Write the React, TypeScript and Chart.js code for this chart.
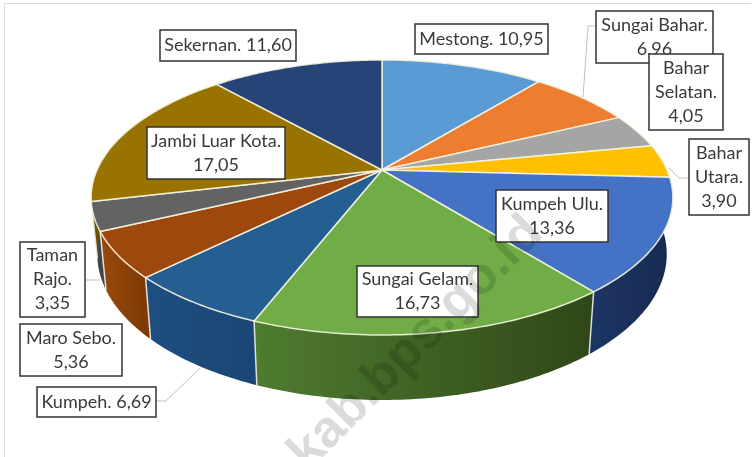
import React, { useEffect, useRef } from "react";
import { Chart, registerables } from "chart.js";

Chart.register(...registerables);

const categories = ["Mestong", "Sungai Bahar", "Bahar Selatan", "Bahar Utara", "Kumpeh Ulu", "Sungai Gelam", "Kumpeh", "Maro Sebo", "Taman Rajo", "Jambi Luar Kota", "Sekernan"];
const shares = [10.95, 6.96, 4.05, 3.9, 13.36, 16.73, 6.69, 5.36, 3.35, 17.05, 11.6];
const topColors = ["#5B9BD5", "#ED7D31", "#A5A5A5", "#FFC000", "#4472C4", "#70AD47", "#255E91", "#9E480E", "#636363", "#997300", "#264478"];
const sideStart = ["#2f5f8c", "#8f4a1c", "#6a6a6a", "#a07800", "#1c3564", "#4f7c2f", "#1d4f80", "#994a0a", "#4a4a4a", "#6b5000", "#17305a"];
const sideEnd = ["#2f5f8c", "#8f4a1c", "#6a6a6a", "#a07800", "#182a50", "#2f4718", "#1a4675", "#7f3a06", "#444444", "#6b5000", "#17305a"];
const wrapModes = [1, 2, 3, 3, 2, 2, 1, 2, 3, 2, 1];
const boxes = [
  [415, 24, 133, 30], [596, 11, 117, 52], [649, 54, 74, 76], [689, 139, 60, 76],
  [496, 190, 112, 52], [357, 266, 121, 51], [37, 387, 119, 30], [20, 324, 102, 52],
  [20, 242, 65, 75], [147, 127, 138, 52], [160, 30, 136, 31],
];
const leaders = [
  [[596, 26], [588, 26], [583, 97]],
  [[689, 178], [679, 178], [669, 168]],
  [[85, 280], [100, 280]],
  [[156, 401], [166, 401], [200, 368]],
];

const CX = 382;
const CY = 170;
const RX = 285;
const RY = 132;
const PERSP = 0.2;
const BOTTOM_RX = 279;
const BOTTOM_RY = 140;
const BOTTOM_DY = 55;

const topPoint = (a: number) => {
  const d = 1 - PERSP * Math.sin(a);
  return [CX + (RX * Math.cos(a)) / d, CY + (RY * Math.sin(a)) / d];
};
const bottomPoint = (a: number) => {
  const d = 1 - PERSP * Math.sin(a);
  return [CX + (BOTTOM_RX * Math.cos(a)) / d, CY + BOTTOM_DY + (BOTTOM_RY * Math.sin(a)) / d];
};
const sweep = (s: number, e: number) => {
  const n = Math.max(4, Math.ceil((e - s) * 60));
  const out: number[] = [];
  for (let i = 0; i <= n; i++) out.push(s + ((e - s) * i) / n);
  return out;
};

const labelLines = (i: number) => {
  const name = categories[i] + ".";
  const val = shares[i].toFixed(2).replace(".", ",");
  if (wrapModes[i] === 1) return [name + " " + val];
  if (wrapModes[i] === 2) return [name, val];
  return [...name.split(" "), val];
};

const pie3d = {
  id: "pie3d",
  beforeDatasetsDraw(chart: any) {
    const ctx: CanvasRenderingContext2D = chart.ctx;
    const arcs = chart.getDatasetMeta(0).data;
    ctx.save();
    ctx.lineJoin = "round";
    // side walls
    arcs.forEach((arc: any, i: number) => {
      const angles = sweep(arc.startAngle, arc.endAngle);
      const t = angles.map(topPoint);
      const b = angles.map(bottomPoint);
      const g = ctx.createLinearGradient(
        Math.min(t[0][0], t[t.length - 1][0]), 0,
        Math.max(t[0][0], t[t.length - 1][0]), 0
      );
      g.addColorStop(0, sideStart[i]);
      g.addColorStop(1, sideEnd[i]);
      ctx.beginPath();
      t.forEach((p, k) => (k ? ctx.lineTo(p[0], p[1]) : ctx.moveTo(p[0], p[1])));
      b.reverse().forEach((p) => ctx.lineTo(p[0], p[1]));
      ctx.closePath();
      ctx.fillStyle = g;
      ctx.fill();
    });
    // wall separators
    arcs.forEach((arc: any) => {
      const s = Math.sin(arc.startAngle);
      if (s > 0.1) {
        const p = topPoint(arc.startAngle);
        const q = bottomPoint(arc.startAngle);
        ctx.beginPath();
        ctx.moveTo(p[0], p[1]);
        ctx.lineTo(q[0], q[1]);
        ctx.strokeStyle = "rgba(235,240,230,0.9)";
        ctx.lineWidth = 1.5;
        ctx.stroke();
      }
    });
    // top surface
    arcs.forEach((arc: any) => {
      const path = new Path2D();
      path.moveTo(CX, CY);
      sweep(arc.startAngle, arc.endAngle).map(topPoint).forEach((p) => path.lineTo(p[0], p[1]));
      path.closePath();
      ctx.fillStyle = arc.options.backgroundColor;
      ctx.fill(path);
      ctx.strokeStyle = arc.options.borderColor;
      ctx.lineWidth = arc.options.borderWidth;
      ctx.stroke(path);
    });
    ctx.restore();
    return false;
  },
  afterDraw(chart: any) {
    const ctx: CanvasRenderingContext2D = chart.ctx;
    ctx.save();
    ctx.strokeStyle = "#bfbfbf";
    ctx.lineWidth = 1;
    leaders.forEach((l) => {
      ctx.beginPath();
      l.forEach((p, k) => (k ? ctx.lineTo(p[0], p[1]) : ctx.moveTo(p[0], p[1])));
      ctx.stroke();
    });
    ctx.font = "18px Lato";
    ctx.textAlign = "center";
    ctx.textBaseline = "middle";
    boxes.forEach((r, i) => {
      ctx.fillStyle = "#ffffff";
      ctx.fillRect(r[0], r[1], r[2], r[3]);
      ctx.strokeStyle = "#333333";
      ctx.lineWidth = 1.5;
      ctx.strokeRect(r[0], r[1], r[2], r[3]);
      const lines = labelLines(i);
      const lh = 24;
      const y0 = r[1] + r[3] / 2 - ((lines.length - 1) * lh) / 2;
      ctx.fillStyle = "#3a3a3a";
      lines.forEach((t, k) => ctx.fillText(t, r[0] + r[2] / 2, y0 + k * lh));
    });
    // watermark
    ctx.translate(545, 235);
    ctx.rotate(-Math.PI / 4);
    ctx.font = "bold 52px 'Liberation Sans'";
    ctx.textAlign = "right";
    ctx.textBaseline = "alphabetic";
    ctx.fillStyle = "rgba(0,0,0,0.14)";
    ctx.fillText("kab.bps.go.id", 0, 0);
    ctx.restore();
  },
};

export default function App() {
  const ref = useRef<HTMLCanvasElement>(null);
  useEffect(() => {
    const chart = new Chart(ref.current!, {
      type: "pie",
      data: {
        labels: categories,
        datasets: [{ data: shares, backgroundColor: topColors, borderColor: "rgba(245,245,225,0.9)", borderWidth: 1.5 }],
      },
      options: {
        responsive: false,
        animation: false,
        plugins: { legend: { display: false }, tooltip: { enabled: false } },
      },
      plugins: [pie3d],
    } as any);
    return () => chart.destroy();
  }, []);
  return (
    <div style={{ position: "fixed", left: 0, top: 0, width: 752, height: 457, background: "#fff", overflow: "hidden" }}>
      <div style={{ position: "absolute", left: 4, top: 3, width: 746, height: 460, borderLeft: "1.5px solid #dcdcdc", borderTop: "1.5px solid #dcdcdc" }} />
      <canvas ref={ref} width={752} height={457} style={{ position: "absolute", left: 0, top: 0 }} />
    </div>
  );
}
